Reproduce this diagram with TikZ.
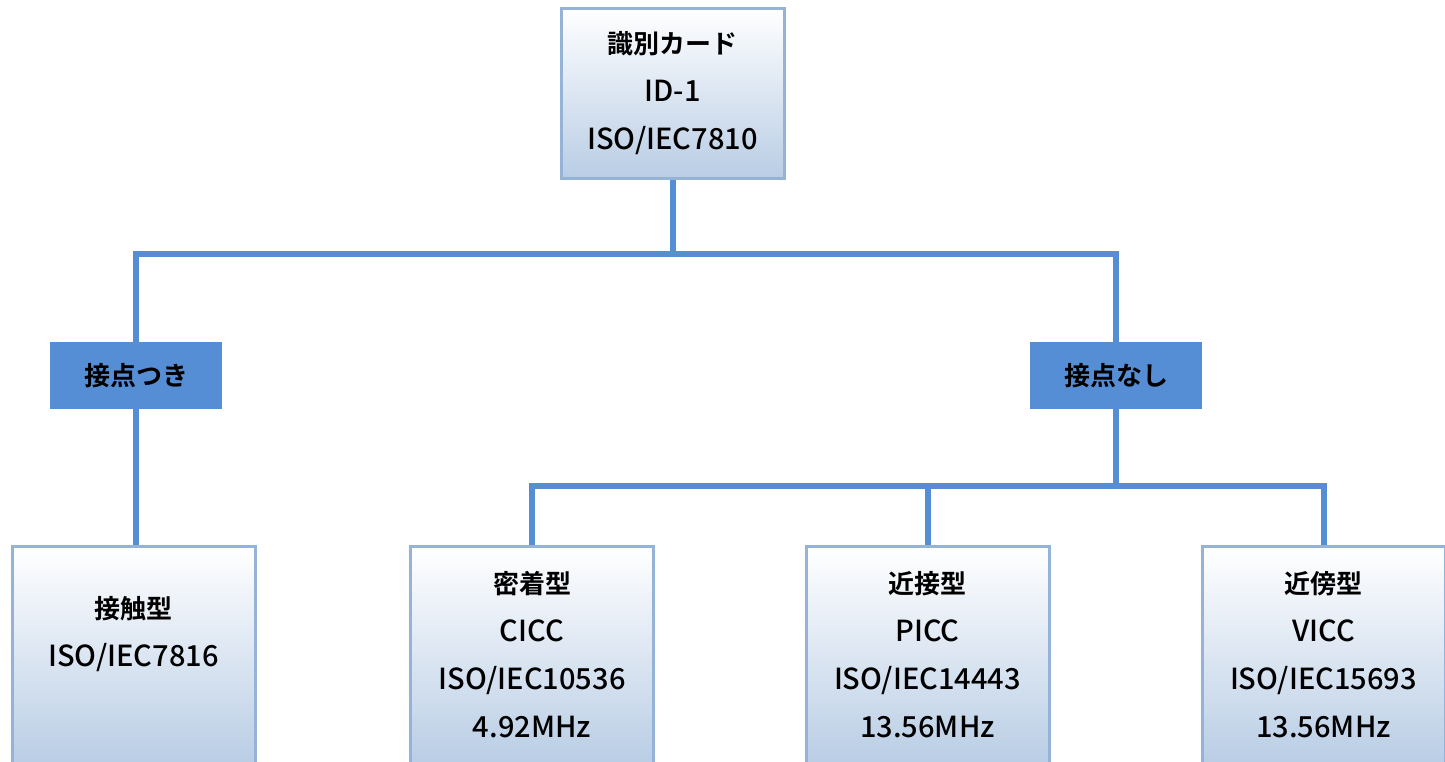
\documentclass[tikz,border=0pt]{standalone}
\usepackage{fontspec}
\setmainfont{Noto Sans CJK JP}[BoldFont={Noto Sans CJK JP Bold}]
\newfontfamily\latn{Noto Sans CJK JP Medium}
\usetikzlibrary{positioning}
\definecolor{linkblue}{HTML}{558ED5}
\definecolor{edgeblue}{HTML}{95B3D7}
\definecolor{shadeblue}{HTML}{B9CDE5}
\newcommand{\lat}[1]{{\latn\fontsize{14.5}{24}\selectfont #1}}

\begin{document}
\begin{tikzpicture} [
      x = 0.5pt, y = -0.5pt,
      inner sep = 0,
      cardbox/.style = { draw = edgeblue, line width = 1.5pt, top color = white, bottom color = shadeblue,
                         align = center, font = \fontsize{13}{24}\selectfont },
      topcard/.style = { cardbox, minimum width = 111.5pt, minimum height = 85pt },
      leafcard/.style = { cardbox, minimum width = 121.5pt, minimum height = 109pt },
      typebox/.style = { fill = linkblue, minimum width = 86pt, minimum height = 33.5pt,
                         font = \bfseries\fontsize{13}{15}\selectfont },
      link/.style = { draw = linkblue, line width = 3pt }
      ]
      \useasboundingbox (0,0) rectangle (1445,761);
      \clip (0,0) rectangle (1445,761);

      \node [topcard] (card) at (672.5,93) {\textbf{識別カード}\\\lat{ID-1}\\\lat{ISO/IEC7810}};

      \node [typebox] (contact) at (136,375.5) {接点つき};
      \node [typebox] (nocontact) at (1116,375.5) {接点なし};

      \node [leafcard] (touchcard) at (133.5,655) {\textbf{接触型}\\\lat{ISO/IEC7816}\\\mbox{}};
      \node [leafcard] (closecard) at (532,655) {\textbf{密着型}\\\lat{CICC}\\\lat{ISO/IEC10536}\\\lat{4.92MHz}};
      \node [leafcard] (proxcard) at (927.5,655) {\textbf{近接型}\\\lat{PICC}\\\lat{ISO/IEC14443}\\\lat{13.56MHz}};
      \node [leafcard] (vicincard) at (1323.5,655) {\textbf{近傍型}\\\lat{VICC}\\\lat{ISO/IEC15693}\\\lat{13.56MHz}};

      \coordinate (fork1) at (672.5,254);
      \coordinate (fork2) at (1116,486);

      \draw [link] (card.south) -- (fork1) -| (contact.north);
      \draw [link] (fork1) -| (nocontact.north);
      \draw [link] (contact.south) -- (contact.south |- touchcard.north);
      \draw [link] (nocontact.south) -- (fork2) -| (closecard.north);
      \draw [link] (fork2) -| (proxcard.north);
      \draw [link] (fork2) -| (vicincard.north);
    \end{tikzpicture}
\end{document}
